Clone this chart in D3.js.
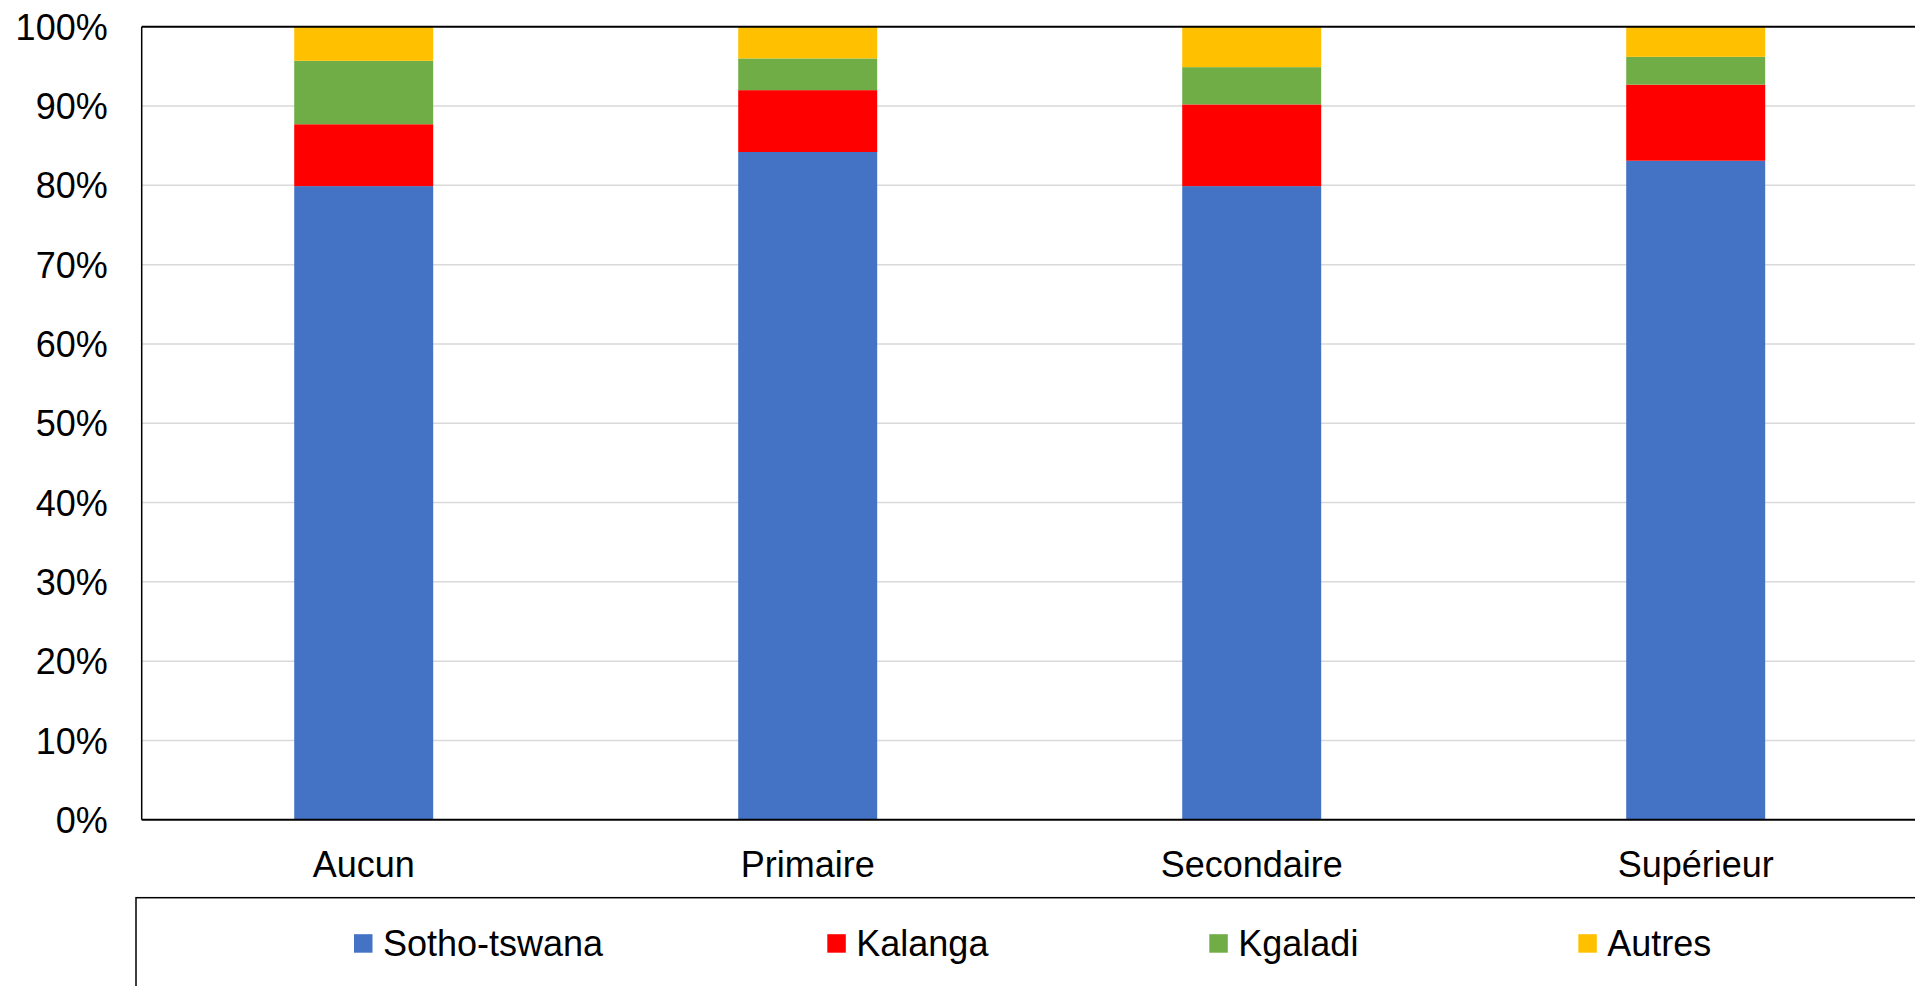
<!DOCTYPE html>
<html>
<head>
<meta charset="utf-8">
<script src="https://cdn.jsdelivr.net/npm/d3@7"></script>
<style>
  html, body { margin: 0; padding: 0; background: #fff; }
  svg { display: block; }
  text { font-family: "Liberation Sans", Arial, sans-serif; fill: #000; }
</style>
</head>
<body>
<svg id="chart" width="1915" height="986"></svg>
<script>
// ---- data ----
const categories = ["Aucun", "Primaire", "Secondaire", "Supérieur"];
const seriesNames = ["Sotho-tswana", "Kalanga", "Kgaladi", "Autres"];
const sothoTswana = [79.9, 84.2, 79.9, 83.1];
const kalanga     = [7.8, 7.8, 10.3, 9.6];
const kgaladi     = [8.0, 4.0, 4.7, 3.5];
const autres      = [4.3, 4.0, 5.1, 3.8];
const yTicks = [0, 10, 20, 30, 40, 50, 60, 70, 80, 90, 100];
const yTickLabels = ["0%", "10%", "20%", "30%", "40%", "50%", "60%", "70%", "80%", "90%", "100%"];

// ---- layout ----
const colors = ["#4472C4", "#FF0000", "#70AD47", "#FFC000"];
const plot = { left: 141.7, right: 1917.7, top: 26.7, bottom: 819.8 };
const legendBox = { x: 136, y: 897.7 };
const legendX = [354, 827.3, 1209.3, 1578.3];
const fontSize = 36;

const svg = d3.select("#chart");

const rows = categories.map((c, i) => ({
  cat: c,
  "Sotho-tswana": sothoTswana[i],
  "Kalanga": kalanga[i],
  "Kgaladi": kgaladi[i],
  "Autres": autres[i]
}));
const stacked = d3.stack().keys(seriesNames)(rows);

const x = d3.scaleBand()
  .domain(categories)
  .range([plot.left, plot.right])
  .paddingInner(0.687)
  .paddingOuter(0.3435);

const y = d3.scaleLinear()
  .domain([0, 100])
  .range([plot.bottom, plot.top]);

// gridlines
svg.append("g")
  .selectAll("line")
  .data(yTicks.filter(t => t > 0 && t < 100))
  .join("line")
  .attr("x1", plot.left).attr("x2", plot.right)
  .attr("y1", d => y(d)).attr("y2", d => y(d))
  .attr("stroke", "#d9d9d9").attr("stroke-width", 1.5);

// bars
svg.append("g")
  .selectAll("g")
  .data(stacked)
  .join("g")
  .attr("fill", (d, i) => colors[i])
  .selectAll("rect")
  .data(d => d)
  .join("rect")
  .attr("x", d => x(d.data.cat))
  .attr("width", x.bandwidth())
  .attr("y", d => y(d[1]))
  .attr("height", d => y(d[0]) - y(d[1]));

// plot border (left, top, bottom)
svg.append("line")
  .attr("x1", plot.left).attr("x2", plot.right)
  .attr("y1", plot.top).attr("y2", plot.top)
  .attr("stroke", "#000").attr("stroke-width", 2);
svg.append("line")
  .attr("x1", plot.left).attr("x2", plot.left)
  .attr("y1", plot.top).attr("y2", plot.bottom)
  .attr("stroke", "#000").attr("stroke-width", 1.5);

// x axis
const xAxis = svg.append("g")
  .attr("transform", `translate(0,${plot.bottom})`)
  .call(d3.axisBottom(x).tickSize(0).tickPadding(0));
xAxis.select(".domain").attr("stroke", "#000").attr("stroke-width", 2)
  .attr("d", `M${plot.left},0H${plot.right}`);
xAxis.selectAll("text")
  .attr("y", 57).attr("dy", null)
  .style("font-family", '"Liberation Sans", Arial, sans-serif')
  .style("font-size", fontSize + "px")
  .attr("fill", "#000");

// y axis labels
const yAxis = svg.append("g")
  .attr("transform", `translate(${plot.left},0)`)
  .call(d3.axisLeft(y).tickValues(yTicks).tickFormat((d, i) => yTickLabels[i]).tickSize(0).tickPadding(34));
yAxis.select(".domain").remove();
yAxis.selectAll("text")
  .attr("dy", "0.35em")
  .style("font-family", '"Liberation Sans", Arial, sans-serif')
  .style("font-size", fontSize + "px")
  .attr("fill", "#000");

// legend
svg.append("rect")
  .attr("x", legendBox.x).attr("y", legendBox.y)
  .attr("width", 1915 - legendBox.x + 10).attr("height", 200)
  .attr("fill", "none").attr("stroke", "#000").attr("stroke-width", 1.5);

const lg = svg.append("g")
  .selectAll("g")
  .data(seriesNames)
  .join("g")
  .attr("transform", (d, i) => `translate(${legendX[i]},0)`);
lg.append("rect")
  .attr("x", 0).attr("y", 934.2)
  .attr("width", 18.5).attr("height", 18.5)
  .attr("fill", (d, i) => colors[i]);
lg.append("text")
  .attr("x", 29).attr("y", 955.5)
  .style("font-size", fontSize + "px")
  .text(d => d);
</script>
</body>
</html>
